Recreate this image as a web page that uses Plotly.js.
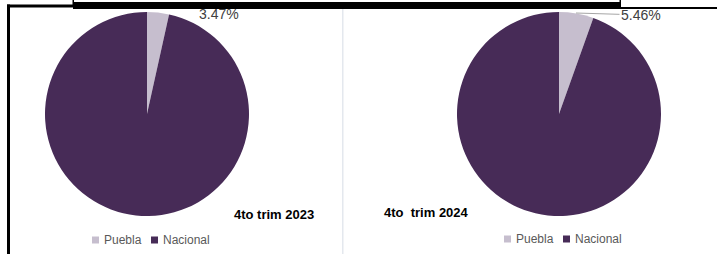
<!DOCTYPE html>
<html>
<head>
<meta charset="utf-8">
<script src="https://cdn.plot.ly/plotly-3.0.1.min.js"></script>
<style>html,body{margin:0;padding:0;background:#fff;}#chart{width:717px;height:254px;}</style>
</head>
<body>
<div id="chart"></div>
<script>
// ---- data ----
const categories = ['Puebla', 'Nacional'];
const periods = ['4to trim 2023', '4to  trim 2024'];
const share2023 = [3.47, 96.53];
const share2024 = [5.46, 94.54];
const colors = ['#C6BECE', '#472B57'];

// ---- helpers (pixel -> paper) ----
const W = 717, H = 254;
const px = x => x / W;
const py = y => 1 - y / H;

const pies = [
  { values: share2023, cx: 147, cy: 114, r: 102 },
  { values: share2024, cx: 559, cy: 114, r: 102 }
];

const data = pies.map(p => ({
  type: 'pie',
  labels: categories,
  values: p.values,
  sort: false,
  direction: 'clockwise',
  rotation: 0,
  textinfo: 'none',
  hoverinfo: 'label+percent',
  marker: { colors: colors, line: { width: 0 } },
  showlegend: false,
  domain: { x: [px(p.cx - p.r), px(p.cx + p.r)], y: [py(p.cy + p.r), py(p.cy - p.r)] }
}));

const pct = v => v[0] / (v[0] + v[1]) * 100;
const F = 'Liberation Sans, Arial';

const annotations = [
  // percent labels for Puebla
  { x: px(219), y: py(14), xref: 'paper', yref: 'paper', xanchor: 'center', yanchor: 'middle', showarrow: false,
    text: pct(share2023).toFixed(2) + '%', font: { family: F, size: 14, color: '#404040' } },
  { x: px(576), y: py(13), xref: 'paper', yref: 'paper', xanchor: 'center', yanchor: 'middle', showarrow: true, arrowhead: 0,
    arrowwidth: 1, arrowcolor: '#A6A6A6', ax: 65, ay: 2, standoff: 0,
    text: pct(share2024).toFixed(2) + '%', font: { family: F, size: 14, color: '#404040' } },
  // period titles
  { x: px(232), y: py(214), xref: 'paper', yref: 'paper', xanchor: 'left', yanchor: 'middle', showarrow: false,
    text: '<b>' + periods[0].replace(/  /g, ' &nbsp;') + '</b>', font: { family: F, size: 13, color: '#000' } },
  { x: px(382), y: py(212), xref: 'paper', yref: 'paper', xanchor: 'left', yanchor: 'middle', showarrow: false,
    text: '<b>' + periods[1].replace(/  /g, ' &nbsp;') + '</b>', font: { family: F, size: 13, color: '#000' } }
];

const shapes = [
  // frame fragments
  { type: 'rect', xref: 'paper', yref: 'paper', x0: px(73), x1: px(620), y0: py(9), y1: py(2), fillcolor: '#000', line: { width: 0 } },
  { type: 'rect', xref: 'paper', yref: 'paper', x0: px(7), x1: px(73), y0: py(7.5), y1: py(4.5), fillcolor: '#000', line: { width: 0 } },
  { type: 'rect', xref: 'paper', yref: 'paper', x0: px(7), x1: px(10), y0: py(254), y1: py(4.5), fillcolor: '#000', line: { width: 0 } },
  { type: 'rect', xref: 'paper', yref: 'paper', x0: px(620), x1: px(717), y0: py(9), y1: py(7), fillcolor: '#000', line: { width: 0 } },
  { type: 'rect', xref: 'paper', yref: 'paper', x0: px(619.5), x1: px(621), y0: py(9), y1: py(0), fillcolor: '#000', line: { width: 0 } },
  { type: 'rect', xref: 'paper', yref: 'paper', x0: px(72.5), x1: px(74), y0: py(5), y1: py(0), fillcolor: '#000', line: { width: 0 } },
  // separator
  { type: 'rect', xref: 'paper', yref: 'paper', x0: px(342), x1: px(343.5), y0: py(254), y1: py(9), fillcolor: '#E4E8EE', line: { width: 0 } }
];

// legends built from categories/colors
const legends = [{ x: 92, y: 240 }, { x: 504, y: 239 }];
legends.forEach(lg => {
  let x = lg.x;
  categories.forEach((c, i) => {
    shapes.push({ type: 'rect', xref: 'paper', yref: 'paper', x0: px(x), x1: px(x + 7), y0: py(lg.y + 3.5), y1: py(lg.y - 3.5),
      fillcolor: colors[i], line: { width: 0 } });
    annotations.push({ x: px(x + 10), y: py(lg.y), xref: 'paper', yref: 'paper', xanchor: 'left', yanchor: 'middle', showarrow: false,
      text: c, font: { family: F, size: 12, color: '#595959' } });
    x += 59;
  });
});

const layout = {
  width: W, height: H,
  margin: { l: 0, r: 0, t: 0, b: 0 },
  paper_bgcolor: '#fff',
  showlegend: false,
  annotations: annotations,
  shapes: shapes
};

Plotly.newPlot('chart', data, layout, { displayModeBar: false, staticPlot: true });
</script>
</body>
</html>
